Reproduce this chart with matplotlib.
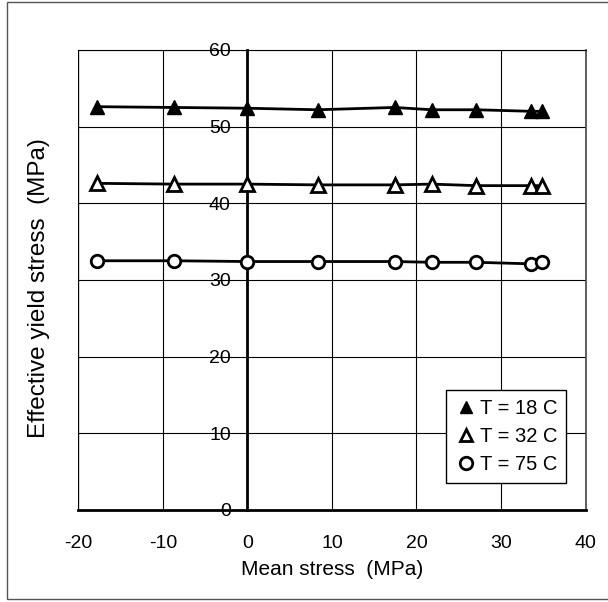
import matplotlib
matplotlib.use("Agg")
import matplotlib.pyplot as plt
from matplotlib.patches import Rectangle

# ==========================================
# DATA
# ==========================================
MEAN_STRESS = [-17.8, -8.7, 0.0, 8.3, 17.4, 21.8, 27.1, 33.5, 34.9]
YIELD_18C = [52.6, 52.5, 52.4, 52.2, 52.5, 52.2, 52.2, 52.0, 52.0]
YIELD_32C = [42.6, 42.5, 42.5, 42.4, 42.4, 42.5, 42.3, 42.3, 42.3]
YIELD_75C = [32.5, 32.5, 32.4, 32.4, 32.4, 32.3, 32.3, 32.1, 32.3]
SERIES_LABELS = ["T = 18 C", "T = 32 C", "T = 75 C"]
X_TICKS = [-20, -10, 0, 10, 20, 30, 40]
Y_TICKS = [0, 10, 20, 30, 40, 50, 60]

plt.rcParams["font.family"] = ["Liberation Sans", "DejaVu Sans"]
plt.rcParams["axes.unicode_minus"] = False

fig = plt.figure(figsize=(6.08, 6.02), dpi=100)
ax = fig.add_axes([0.129, 0.153, 0.834, 0.764])

# outer frame around the whole picture
fig.patches.append(Rectangle((7 / 608, 1 - 599 / 602), 1.2, 597 / 602,
                             transform=fig.transFigure, fill=False,
                             edgecolor="#555555", linewidth=1.0))

# --- series ---
ax.plot(MEAN_STRESS, YIELD_18C, "-^", color="black", lw=2, ms=10,
        mfc="black", mec="black", label=SERIES_LABELS[0], zorder=4)
ax.plot(MEAN_STRESS, YIELD_32C, "-^", color="black", lw=2, ms=10,
        mfc="white", mec="black", mew=2, label=SERIES_LABELS[1], zorder=4)
ax.plot(MEAN_STRESS, YIELD_75C, "-o", color="black", lw=2, ms=9,
        mfc="white", mec="black", mew=2, label=SERIES_LABELS[2], zorder=4)

ax.set_xlim(-20, 40)
ax.set_ylim(0, 60)
ax.set_xticks(X_TICKS)
ax.set_yticks(Y_TICKS)
ax.grid(True, color="black", linewidth=0.8, zorder=0)
ax.set_axisbelow(True)

# y axis sits at x = 0, frame drawn from gridlines/spines
ax.spines["left"].set_position(("data", 0))
ax.spines["left"].set_linewidth(2)
ax.spines["left"].set_zorder(3)
ax.spines["bottom"].set_linewidth(2)
ax.spines["top"].set_linewidth(0.8)
ax.spines["right"].set_linewidth(1.2)
ax.spines["right"].set_color("#444444")
ax.axvline(-20, color="black", lw=1.6, zorder=2)

ax.tick_params(axis="y", length=0, pad=12, labelsize=14)
ax.tick_params(axis="x", length=0, pad=18, labelsize=14)

ax.set_xlabel("Mean stress  (MPa)", fontsize=15, labelpad=6)
ax.set_ylabel("Effective yield stress  (MPa)", fontsize=17.5)
ax.yaxis.set_label_coords(-0.056, 0.483)

leg = ax.legend(loc="lower right", bbox_to_anchor=(0.962, 0.059),
                fontsize=14.5, frameon=True, fancybox=False, framealpha=1,
                edgecolor="black", handlelength=1.0, handletextpad=0.2,
                borderpad=0.45, borderaxespad=0, labelspacing=0.45,
                numpoints=1)
leg.get_frame().set_linewidth(1.0)
for line in leg.get_lines():
    line.set_linestyle("none")
    line.set_markersize(9)

fig.savefig("out.png", dpi=100)
